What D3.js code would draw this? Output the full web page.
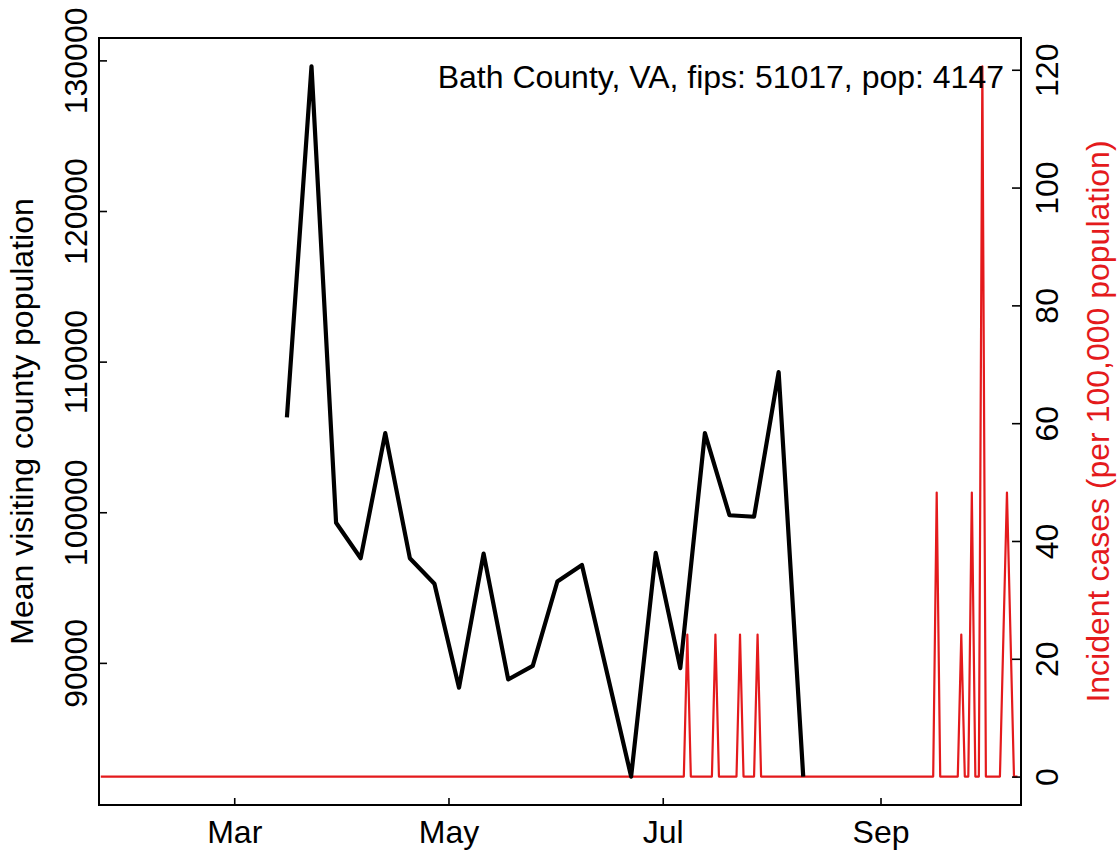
<!DOCTYPE html>
<html>
<head>
<meta charset="utf-8">
<script src="https://cdn.jsdelivr.net/npm/d3@7"></script>
<style>
  html, body { margin: 0; padding: 0; background: #ffffff; }
  svg { display: block; }
</style>
</head>
<body>
<script>
// ---------------- data ----------------
const countyTitle = "Bath County, VA, fips: 51017, pop: 4147";
const population = 4147;

// weekly mean visiting county population (black line)
const visitDates = ["2020-03-16","2020-03-23","2020-03-30","2020-04-06","2020-04-13","2020-04-20",
  "2020-04-27","2020-05-04","2020-05-11","2020-05-18","2020-05-25","2020-06-01","2020-06-08",
  "2020-06-22","2020-06-29","2020-07-06","2020-07-13","2020-07-20","2020-07-27","2020-08-03","2020-08-10"];
const visitValues = [106300,129600,99300,96950,105250,96950,
  95250,88350,97250,88900,89800,95400,96500,
  82450,97300,89650,105250,99800,99700,109300,82450];

// incident cases (red line), vertices of the daily series
const caseDates = ["2020-01-23",
  "2020-07-07","2020-07-08","2020-07-09",
  "2020-07-15","2020-07-16","2020-07-17",
  "2020-07-22","2020-07-23","2020-07-24",
  "2020-07-27","2020-07-28","2020-07-29",
  "2020-09-16","2020-09-17","2020-09-18",
  "2020-09-23","2020-09-24","2020-09-25",
  "2020-09-26","2020-09-27","2020-09-28",
  "2020-09-29","2020-09-30","2020-10-01",
  "2020-10-05","2020-10-06","2020-10-07","2020-10-08","2020-10-09",
  "2020-10-10"];
const caseCounts = [0,
  0,1,0,
  0,1,0,
  0,1,0,
  0,1,0,
  0,2,0,
  0,1,0,
  0,2,0,
  0,5,0,
  0,1,2,1,0,
  0];

const xDomain = ["2020-01-22T12:00:00", "2020-10-11T00:00:00"];
const xTickDates = ["2020-03-01","2020-05-01","2020-07-01","2020-09-01"];
const xTickLabels = ["Mar","May","Jul","Sep"];
const leftTicks = [90000,100000,110000,120000,130000];
const rightTicks = [0,20,40,60,80,100,120];

const leftLabel = "Mean visiting county population";
const rightLabel = "Incident cases (per 100,000 population)";

// ---------------- layout ----------------
const W = 1119, H = 850;
const box = {left: 99, right: 1021, top: 38, bottom: 805};
const FONT = "'Liberation Sans', Arial, Helvetica, sans-serif";
const FS = 32;
const RED = "#E41A1C";

const parse = d3.isoParse;
const visit = visitDates.map((d, i) => ({date: parse(d), v: visitValues[i]}));
const cases = caseDates.map((d, i) => ({date: parse(d), v: caseCounts[i] * 1e5 / population}));

const x = d3.scaleTime().domain(xDomain.map(parse)).range([box.left, box.right]);

function padded(ext) { const r = ext[1] - ext[0]; return [ext[0] - 0.04 * r, ext[1] + 0.04 * r]; }
const yL = d3.scaleLinear().domain(padded(d3.extent(visit, d => d.v))).range([box.bottom, box.top]);
const yR = d3.scaleLinear().domain(padded(d3.extent(cases, d => d.v))).range([box.bottom, box.top]);

const svg = d3.select("body").append("svg").attr("width", W).attr("height", H)
  .style("font-family", FONT);
svg.append("rect").attr("width", W).attr("height", H).attr("fill", "#fff");

// red line
svg.append("path").datum(cases)
  .attr("fill", "none").attr("stroke", RED).attr("stroke-width", 2.2)
  .attr("stroke-linejoin", "round")
  .attr("d", d3.line().x(d => x(d.date)).y(d => yR(d.v)));

// black line
svg.append("path").datum(visit)
  .attr("fill", "none").attr("stroke", "#000").attr("stroke-width", 4.2)
  .attr("stroke-linejoin", "round").attr("stroke-linecap", "butt")
  .attr("d", d3.line().x(d => x(d.date)).y(d => yL(d.v)));

// box
svg.append("rect").attr("x", box.left).attr("y", box.top)
  .attr("width", box.right - box.left).attr("height", box.bottom - box.top)
  .attr("fill", "none").attr("stroke", "#000").attr("stroke-width", 2);

function styleAxis(g) {
  g.select(".domain").remove();
  g.selectAll(".tick line").attr("stroke", "#000").attr("stroke-width", 1.6);
  g.selectAll("text").attr("font-size", FS).attr("font-family", FONT).attr("fill", "#000");
}

// bottom axis
const gx = svg.append("g").attr("transform", `translate(0,${box.bottom})`)
  .call(d3.axisBottom(x).tickValues(xTickDates.map(parse))
    .tickFormat((d, i) => xTickLabels[i]).tickSizeInner(-7).tickSizeOuter(0));
styleAxis(gx);
gx.selectAll(".tick text").attr("y", 38).attr("dy", 0);

// left axis
const gl = svg.append("g").attr("transform", `translate(${box.left},0)`)
  .call(d3.axisLeft(yL).tickValues(leftTicks).tickFormat(d3.format("d")).tickSizeInner(-8).tickSizeOuter(0));
styleAxis(gl);
gl.selectAll(".tick text").attr("x", 0).attr("y", 0).attr("dy", 0)
  .attr("text-anchor", "middle").attr("transform", "translate(-12,0) rotate(-90)");

// right axis
const gr = svg.append("g").attr("transform", `translate(${box.right},0)`)
  .call(d3.axisRight(yR).tickValues(rightTicks).tickFormat(d3.format("d")).tickSizeInner(-9).tickSizeOuter(0));
styleAxis(gr);
gr.selectAll(".tick text").attr("x", 0).attr("y", 0).attr("dy", 0)
  .attr("text-anchor", "middle").attr("transform", "translate(37,0) rotate(-90)");

// axis titles
const midY = (box.top + box.bottom) / 2;
svg.append("text").attr("transform", `translate(33,${midY}) rotate(-90)`)
  .attr("text-anchor", "middle").attr("font-size", FS).attr("fill", "#000").text(leftLabel);
svg.append("text").attr("transform", `translate(1109,${midY}) rotate(-90)`)
  .attr("text-anchor", "middle").attr("font-size", FS).attr("fill", RED).text(rightLabel);

// county title
svg.append("text").attr("x", 1004).attr("y", 88).attr("text-anchor", "end")
  .attr("font-size", FS).attr("fill", "#000").text(countyTitle);
</script>
</body>
</html>
